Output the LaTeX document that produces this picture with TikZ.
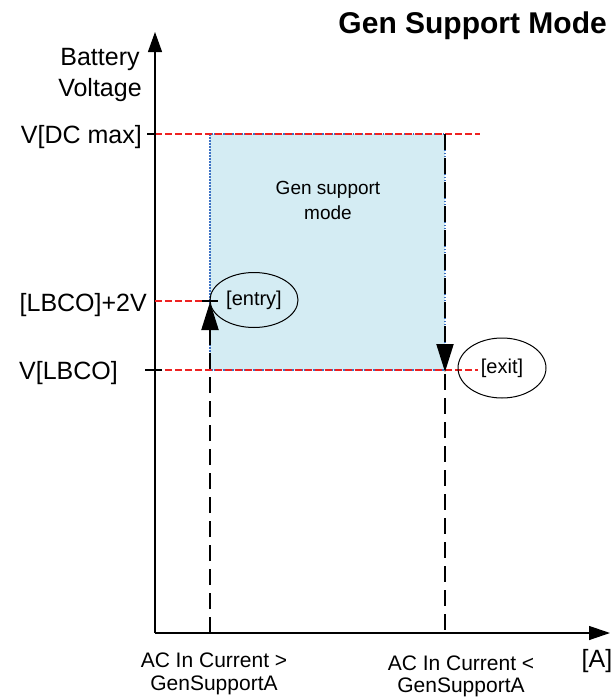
\documentclass[tikz,border=0pt]{standalone}
\usepackage{fontspec}
\setmainfont{Liberation Sans}
\usetikzlibrary{arrows.meta,shapes.geometric}
\definecolor{boxfill}{HTML}{D4ECF3}
\definecolor{dotblue}{HTML}{3D72C4}
\definecolor{lvlred}{HTML}{EE2222}
\tikzset{
  lbl/.style={font=\fontsize{25}{30}\selectfont, inner sep=0pt},
  sml/.style={font=\fontsize{21}{25}\selectfont, inner sep=0pt, align=center},
  axis/.style={line width=1.3pt, draw=black},
  reddash/.style={line width=2.7pt, draw=lvlred, dash pattern=on 6.5pt off 3.5pt},
  blkdash/.style={line width=2pt, draw=black, dash pattern=on 16pt off 8pt},
  tick/.style={line width=2.4pt, draw=black},
  oval/.style={ellipse, draw=black, line width=1pt, inner sep=0pt, font=\fontsize{20}{24}\selectfont},
  bigtip/.style={-{Triangle[length=28pt,width=17pt]}},
}
\begin{document}
\begin{tikzpicture}[x=1pt,y=-1pt]
\useasboundingbox (0,0) rectangle (615,697);
% coordinates
\coordinate (O) at (155,633);
\coordinate (ytop) at (155,32);
\coordinate (xend) at (610,633);
\coordinate (dcA) at (155,134);
\coordinate (dcB) at (480,134);
\coordinate (enA) at (155,301);
\coordinate (enB) at (210,301);
\coordinate (lbA) at (155,370);
\coordinate (lbB) at (478,370);
\coordinate (inBot) at (210,633);
\coordinate (inTip) at (210,302);
\coordinate (outTop) at (445,134);
\coordinate (outTip) at (445,372);
\coordinate (outBot) at (445,633);
% shaded region
\fill[boxfill] (210,134) rectangle (445,370);
\draw[dotblue, line width=1.2pt, dash pattern=on 1.5pt off 1.5pt] (210,134) rectangle (445,370);
\node[font=\fontsize{19}{25}\selectfont, align=center, inner sep=0pt] (gsm) at (328,200) {Gen support\\mode};
% axes
\draw[axis, -{Triangle[length=20pt,width=14pt]}] (O) -- (ytop);
\draw[axis, -{Triangle[length=21pt,width=14pt]}] (O) -- (xend);
% level lines
\draw[reddash] (dcA) -- (dcB);
\draw[reddash] (enA) -- (enB);
\draw[reddash] (lbA) -- (lbB);
% ticks
\draw[tick] (147,134) -- (156,134);
\draw[tick] (202,301) -- (218,301);
\draw[tick] (145,370) -- (162,370);
% dashed current lines
\draw[blkdash, bigtip] (inBot) -- (inTip);
\draw[blkdash] (outTop) -- (outBot);
\draw[blkdash, bigtip] (outTop) -- (outTip);
% ellipses
\node[oval, minimum width=88pt, minimum height=55pt] (entry) at (254,300) {[entry]};
\node[oval, minimum width=88pt, minimum height=60pt] (exit) at (502,368) {[exit]};
% labels
\node[font=\fontsize{30}{36}\selectfont\bfseries, inner sep=0pt, anchor=base east] (title) at (607,33) {Gen Support Mode};
\node[lbl, anchor=base] (bat) at (100,65) {Battery};
\node[lbl, anchor=base] (volt) at (100,96) {Voltage};
\node[lbl, anchor=base east] (vdc) at (142,143) {V[DC max]};
\node[lbl, anchor=base east] (vlb2) at (147,311) {[LBCO]+2V};
\node[lbl, anchor=base east] (vlb) at (118,379) {V[LBCO]};
\node[sml, anchor=base] (acg1) at (214,667) {AC In Current >};
\node[sml, anchor=base] (acg2) at (214,690) {GenSupportA};
\node[sml, anchor=base] (acl1) at (461,670) {AC In Current <};
\node[sml, anchor=base] (acl2) at (461,692) {GenSupportA};
\node[lbl, anchor=base] (amp) at (597,667) {[A]};
\end{tikzpicture}
\end{document}
